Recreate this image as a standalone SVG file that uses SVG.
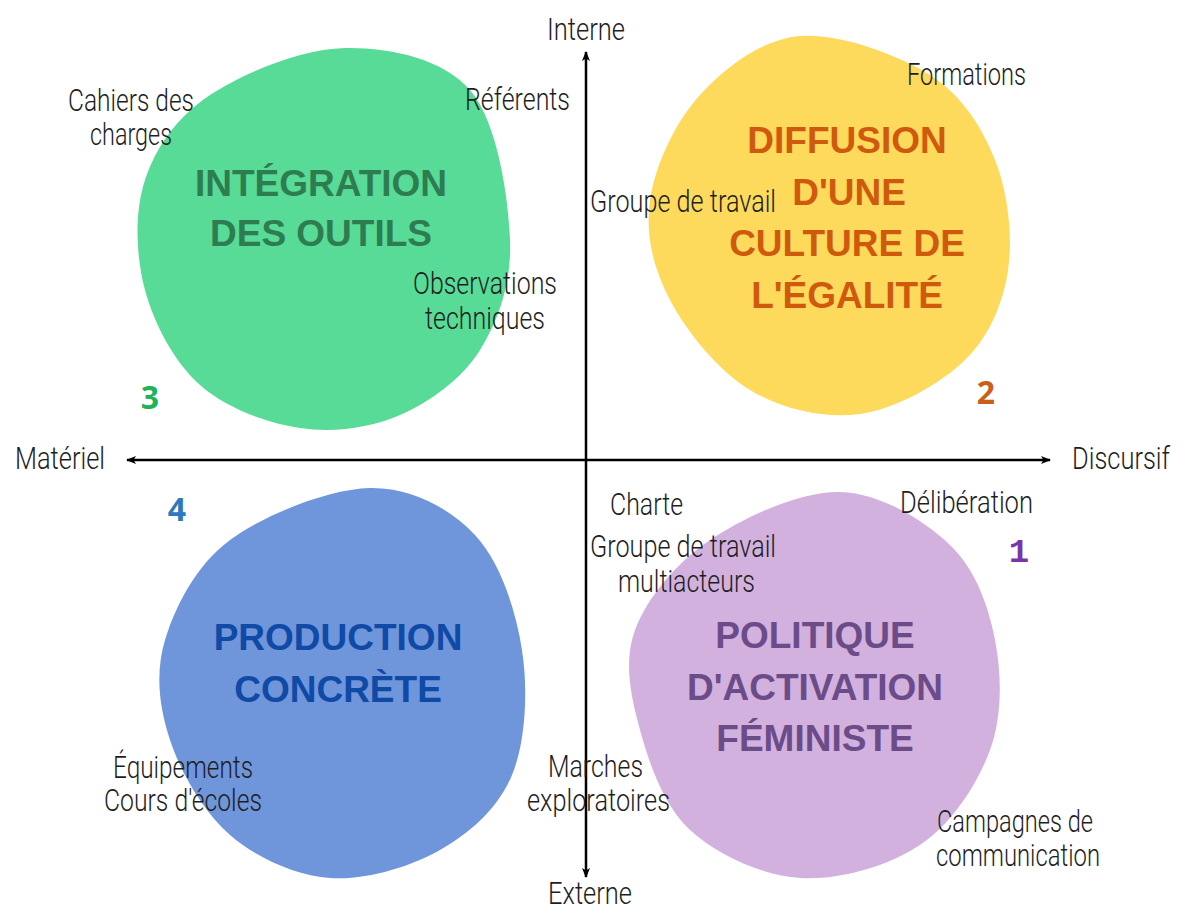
<svg xmlns="http://www.w3.org/2000/svg" width="1183" height="911" viewBox="0 0 1183 911">
<defs>
<style>
.blob{stroke:none}
.title{font-family:"Liberation Sans",Arial,sans-serif;font-weight:bold;font-size:37px;text-anchor:middle}
.lab{font-family:Roboto,"Liberation Sans",sans-serif;font-weight:300;font-size:31px;fill:#1e1e1e}
.num{font-family:"Open Sans","DejaVu Sans",sans-serif;font-weight:bold;font-size:32px;text-anchor:middle}
.axis{stroke:#000;stroke-width:2.5;fill:none}
</style>
<marker id="arr" viewBox="0 0 10 10" refX="9" refY="5" markerUnits="userSpaceOnUse" markerWidth="10" markerHeight="10" orient="auto">
<path d="M0,1 L10,5 L0,9 L2.5,5 Z" fill="#000"/>
</marker>
</defs>
<rect width="1183" height="911" fill="#fff"/>

<g id="node-integration">
<path class="blob" fill="#57DB97" d="M345,48 C388.3,47.2 442.5,58 470,90 C497.5,122 508.3,196.7 510,240 C511.7,283.3 498.3,320.8 480,350 C461.7,379.2 430,402 400,415 C370,428 333.3,433 300,428 C266.7,423 225.8,408 200,385 C174.2,362 154.2,324.2 145,290 C135.8,255.8 134.2,212.5 145,180 C155.8,147.5 176.7,117 210,95 C243.3,73 301.7,48.8 345,48 Z"/>
<text class="title" fill="#2E7D50" x="321" y="196">INTÉGRATION</text>
<text class="title" fill="#2E7D50" x="321" y="246">DES OUTILS</text>
<text class="num" fill="#1DB35A" x="150" y="409">3</text>
</g>

<g id="node-diffusion">
<path class="blob" fill="#FDD95C" d="M800,36 C838.3,32.7 897.5,54.3 930,75 C962.5,95.7 982,127.5 995,160 C1008,192.5 1013,236.7 1008,270 C1003,303.3 989.7,336 965,360 C940.3,384 895.8,409 860,414 C824.2,419 781.7,409 750,390 C718.3,371 686.7,331.7 670,300 C653.3,268.3 645,234.2 650,200 C655,165.8 675,122.3 700,95 C725,67.7 761.7,39.3 800,36 Z"/>
<text class="title" fill="#CF5A0E" x="847" y="153">DIFFUSION</text>
<text class="title" fill="#CF5A0E" x="849" y="205">D'UNE</text>
<text class="title" fill="#CF5A0E" x="847" y="256">CULTURE DE</text>
<text class="title" fill="#CF5A0E" x="847" y="308">L'ÉGALITÉ</text>
<text class="num" fill="#C9601A" x="986" y="404">2</text>
</g>

<g id="node-production">
<path class="blob" fill="#6F95DA" d="M370,488 C410.8,487.2 449.7,508 475,535 C500.3,562 515.8,610 522,650 C528.2,690 525.7,741.7 512,775 C498.3,808.3 470.3,832.8 440,850 C409.7,867.2 365,880.5 330,878 C295,875.5 256.7,858 230,835 C203.3,812 180.8,772.5 170,740 C159.2,707.5 155,673.3 165,640 C175,606.7 195.8,565.3 230,540 C264.2,514.7 329.2,488.8 370,488 Z"/>
<text class="title" fill="#0E4AA6" x="338" y="650">PRODUCTION</text>
<text class="title" fill="#0E4AA6" x="338" y="702">CONCRÈTE</text>
<text class="num" fill="#2D78BE" x="177" y="521">4</text>
</g>

<g id="node-politique">
<path class="blob" fill="#D2B1DF" d="M840,492 C880,492.8 924.2,520.3 950,545 C975.8,569.7 988.3,605.8 995,640 C1001.7,674.2 1002.5,715.8 990,750 C977.5,784.2 951.7,823.7 920,845 C888.3,866.3 838.3,880.5 800,878 C761.7,875.5 716.7,854.7 690,830 C663.3,805.3 649.2,763.3 640,730 C630.8,696.7 623.3,661.7 635,630 C646.7,598.3 675.8,563 710,540 C744.2,517 800,491.2 840,492 Z"/>
<text class="title" fill="#6B4C88" x="815" y="648">POLITIQUE</text>
<text class="title" fill="#6B4C88" x="815" y="700">D'ACTIVATION</text>
<text class="title" fill="#6B4C88" x="815" y="751">FÉMINISTE</text>
<text fill="#7A35A8" x="1019" y="562" style="font-family:'Liberation Mono',monospace;font-weight:bold;font-size:34px;text-anchor:middle">1</text>
</g>

<g id="connectors">
<line class="axis" x1="586" y1="460" x2="586" y2="52" marker-end="url(#arr)"/>
<line class="axis" x1="586" y1="460" x2="586" y2="877" marker-end="url(#arr)"/>
<line class="axis" x1="586" y1="460" x2="127" y2="460" marker-end="url(#arr)"/>
<line class="axis" x1="586" y1="460" x2="1050" y2="460" marker-end="url(#arr)"/>
</g>

<g id="labels">
<text class="lab" x="547" y="40" textLength="78" lengthAdjust="spacingAndGlyphs">Interne</text>
<text class="lab" x="548" y="904" textLength="84" lengthAdjust="spacingAndGlyphs">Externe</text>
<text class="lab" x="15" y="469" textLength="90" lengthAdjust="spacingAndGlyphs">Matériel</text>
<text class="lab" x="1072" y="469" textLength="98" lengthAdjust="spacingAndGlyphs">Discursif</text>
<text class="lab" x="68" y="111" textLength="126" lengthAdjust="spacingAndGlyphs">Cahiers des</text>
<text class="lab" x="90" y="145" textLength="82" lengthAdjust="spacingAndGlyphs">charges</text>
<text class="lab" x="465" y="110" textLength="105" lengthAdjust="spacingAndGlyphs">Référents</text>
<text class="lab" x="413" y="294" textLength="144" lengthAdjust="spacingAndGlyphs">Observations</text>
<text class="lab" x="425" y="329" textLength="120" lengthAdjust="spacingAndGlyphs">techniques</text>
<text class="lab" x="907" y="85" textLength="119" lengthAdjust="spacingAndGlyphs">Formations</text>
<text class="lab" x="590" y="212" textLength="186" lengthAdjust="spacingAndGlyphs">Groupe de travail</text>
<text class="lab" x="610" y="515" textLength="73" lengthAdjust="spacingAndGlyphs">Charte</text>
<text class="lab" x="900" y="513" textLength="133" lengthAdjust="spacingAndGlyphs">Délibération</text>
<text class="lab" x="590" y="557" textLength="186" lengthAdjust="spacingAndGlyphs">Groupe de travail</text>
<text class="lab" x="618" y="592" textLength="137" lengthAdjust="spacingAndGlyphs">multiacteurs</text>
<text class="lab" x="548" y="777" textLength="95" lengthAdjust="spacingAndGlyphs">Marches</text>
<text class="lab" x="527" y="811" textLength="143" lengthAdjust="spacingAndGlyphs">exploratoires</text>
<text class="lab" x="113" y="778" textLength="140" lengthAdjust="spacingAndGlyphs">Équipements</text>
<text class="lab" x="104" y="811" textLength="158" lengthAdjust="spacingAndGlyphs">Cours d'écoles</text>
<text class="lab" x="937" y="832" textLength="156" lengthAdjust="spacingAndGlyphs">Campagnes de</text>
<text class="lab" x="936" y="866" textLength="164" lengthAdjust="spacingAndGlyphs">communication</text>
</g>
</svg>
